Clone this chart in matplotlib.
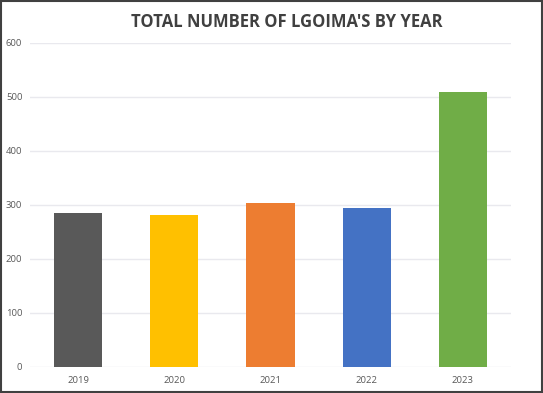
import matplotlib
matplotlib.use('Agg')
import matplotlib.pyplot as plt
from matplotlib.patches import Rectangle

years = ['2019', '2020', '2021', '2022', '2023']
totals = [286, 282, 304, 294, 510]
colors = ['#595959', '#FFC000', '#ED7D31', '#4472C4', '#70AD47']

plt.rcParams['font.family'] = ['Open Sans', 'DejaVu Sans']

fig = plt.figure(figsize=(5.43, 3.93), dpi=100)
ax = fig.add_axes([30 / 543, 26 / 393, 481 / 543, 324 / 393])

ax.bar(range(len(years)), totals, width=0.5, color=colors, zorder=3)
ax.set_xlim(-0.5, len(years) - 0.5)
ax.set_ylim(0, 600)
ax.set_yticks(range(0, 601, 100))
ax.set_xticks(range(len(years)))
ax.set_xticklabels(years)
ax.tick_params(axis='both', length=0, labelsize=6.8, colors='#595959')
ax.tick_params(axis='y', pad=5.5)
ax.tick_params(axis='x', pad=6.5)

ax.grid(axis='y', color='#e9e9ee', linewidth=1, zorder=0)
for s in ax.spines.values():
    s.set_visible(False)

fig.text(0.528, 0.944, "TOTAL NUMBER OF LGOIMA'S BY YEAR",
         ha='center', va='center', fontsize=12, fontweight='bold', color='#404040')

fig.patches.append(Rectangle((0.0015, 0.002), 0.997, 0.996, transform=fig.transFigure,
                             fill=False, edgecolor='#404040', linewidth=1.5))

fig.savefig('out.png', dpi=100)
